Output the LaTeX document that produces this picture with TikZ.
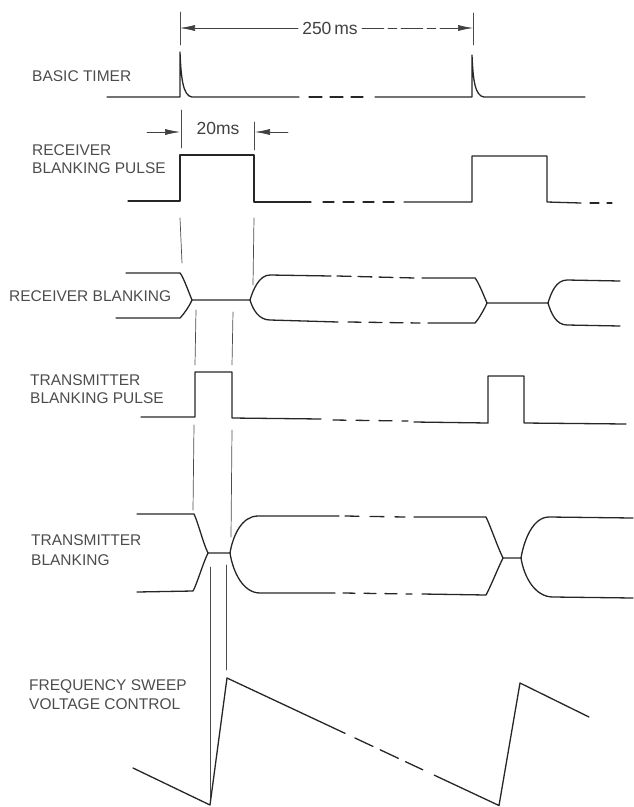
\documentclass[tikz,border=0pt]{standalone}
\usepackage{fontspec}
\setmainfont{Liberation Sans}
\usetikzlibrary{calc,arrows.meta}

\begin{document}
\begin{tikzpicture}[x=1pt,y=-1pt,line cap=round,line join=round,
  sig/.style={line width=1.3pt,draw=black!85},
  gap/.style={sig,dash pattern=on 13pt off 8pt},
  guide/.style={line width=0.7pt,draw=black!70},
  lbl/.style={anchor=base west,inner sep=0pt,text=black!70,font=\fontsize{15.5}{18.5}\selectfont},
  dimtxt/.style={inner sep=4pt,text=black!75,font=\fontsize{17.5}{20}\selectfont},
  dim/.style={line width=0.6pt,draw=black!75,-{Latex[length=15pt,width=6pt]}}]
  \useasboundingbox (0,0) rectangle (633,807);
  % labels
  \node[lbl] (lbTimer) at (32,81.5) {BASIC TIMER};
  \node[lbl] (lbRxPulseA) at (32,155.5) {RECEIVER};
  \node[lbl] (lbRxPulseB) at (32,173.5) {BLANKING PULSE};
  \node[lbl] (lbRx) at (9,301.5) {RECEIVER BLANKING};
  \node[lbl] (lbTxPulseA) at (30,385.5) {TRANSMITTER};
  \node[lbl] (lbTxPulseB) at (30,403.5) {BLANKING PULSE};
  \node[lbl] (lbTxA) at (31,545.5) {TRANSMITTER};
  \node[lbl] (lbTxB) at (31,565.5) {BLANKING};
  \node[lbl] (lbSweepA) at (29,690.5) {FREQUENCY SWEEP};
  \node[lbl] (lbSweepB) at (29,709.5) {VOLTAGE CONTROL};
  % 250 ms Periode
  \coordinate (A1) at (180,28);
  \coordinate (A2) at (473,28);
  \node[dimtxt] (t250) at (330,28) {250\,ms};
  \draw[guide] (180,12) -- (180,45);
  \draw[guide] (473,13) -- (473,45);
  \draw[dim] (t250.west) -- (A1);
  \draw[dim,dash pattern=on 22pt off 4pt on 9pt off 4pt] (t250.east) -- (A2);
  % basic timer
  \draw[sig] (107,97) -- (180,97) -- (180,52) .. controls (181,78) and (183,96) .. (192,97) -- (299,97);
  \draw[gap] (309,97) -- (363,97);
  \draw[sig] (375,97) -- (472,97) -- (472,55) .. controls (473,80) and (475,96) .. (484,97) -- (585,97);
  % 20 ms
  \coordinate (B0) at (147,132);
  \coordinate (B1) at (180,132);
  \coordinate (B2) at (255,132);
  \coordinate (B3) at (288,132);
  \node[dimtxt] (t20) at (218,128) {20ms};
  \draw[guide] (181,110) -- (181,148);
  \draw[guide] (254,122) -- (254,150);
  \draw[dim] (B0) -- (B1);
  \draw[dim] (B3) -- (B2);
  % receiver blanking pulse
  \draw[sig] (128,201) -- (180,201) -- (180,155) -- (254,155) -- (254,202) -- (311,202);
  \draw[gap,dash pattern=on 11pt off 9pt] (323,202) -- (398,202);
  \draw[sig] (404,202) -- (472,202) -- (472,156) -- (547,156) -- (547,202) -- (581,203);
  \draw[gap,dash pattern=on 9pt off 8pt] (590,203) -- (612,203);
  \draw[guide] (180,218) -- (182,263);
  \draw[guide] (254,218) -- (253,285);
  % receiver blanking
  \draw[sig] (126,273) -- (180,273) .. controls (183,276) and (189,293) .. (192,300)
    -- (250,300) .. controls (253,290) and (259,275) .. (270,275) -- (331,276);
  \draw[sig] (116,318) -- (180,318) .. controls (183,315) and (189,307) .. (192,300);
  \draw[sig] (250,300) .. controls (253,310) and (259,320) .. (270,320) -- (338,322);
  \draw[gap,dash pattern=on 14pt off 7pt] (337,276) -- (415,278);
  \draw[gap,dash pattern=on 13pt off 8pt] (348,322) -- (420,323);
  \draw[sig] (422,278) -- (475,278) .. controls (478,281) and (484,296) .. (487,303)
    -- (548,303) .. controls (551,293) and (556,280) .. (567,280) -- (620,281);
  \draw[sig] (428,323) -- (475,323) .. controls (478,320) and (484,310) .. (487,303);
  \draw[sig] (548,303) .. controls (551,313) and (556,325) .. (567,325) -- (620,326);
  \draw[guide] (196,310) -- (195,365);
  \draw[guide] (233,312) -- (232,365);
  % transmitter blanking pulse
  \draw[sig] (141,417) -- (195,417) -- (195,372) -- (232,372) -- (232,418) -- (321,419);
  \draw[gap,dash pattern=on 13pt off 10pt] (333,420) -- (408,421);
  \draw[sig] (414,422) -- (488,423) -- (488,376) -- (524,376) -- (524,423) -- (626,424);
  \draw[guide] (194,425) -- (193,510);
  \draw[guide] (232,430) -- (231,537);
  % transmitter blanking
  \draw[sig] (137,514) -- (194,514) .. controls (198,522) and (203,543) .. (208,553)
    -- (230,553) .. controls (233,535) and (242,516) .. (258,516) -- (339,516);
  \draw[sig] (137,592) -- (193,591) .. controls (197,584) and (203,563) .. (208,553);
  \draw[sig] (230,553) .. controls (233,572) and (243,593) .. (260,593) -- (335,593);
  \draw[gap,dash pattern=on 14pt off 11pt] (345,516) -- (405,517);
  \draw[gap,dash pattern=on 12pt off 9pt] (343,593) -- (412,594);
  \draw[sig] (414,517) -- (486,517) .. controls (490,525) and (498,548) .. (503,558)
    -- (521,558) .. controls (524,540) and (533,517) .. (549,517) -- (633,518);
  \draw[sig] (422,594) -- (486,595) .. controls (490,588) and (498,568) .. (503,558);
  \draw[sig] (521,558) .. controls (524,577) and (535,597) .. (553,597) -- (633,598);
  \draw[guide] (210,567) -- (210,800);
  \draw[guide] (226,565) -- (226,670);
  % frequency sweep voltage control
  \coordinate (S0) at (133,768);
  \coordinate (S1) at (210,805);
  \coordinate (S2) at (227,678);
  \coordinate (S3) at (499,805.5);
  \coordinate (S4) at (520,683);
  \coordinate (S5) at (589,717);
  \draw[sig] (S0) -- (S1) -- (S2) -- ($(S2)!0.434!(S3)$);
  \draw[gap,dash pattern=on 20pt off 8pt] ($(S2)!0.47!(S3)$) -- ($(S2)!0.72!(S3)$);
  \draw[sig] ($(S2)!0.762!(S3)$) -- (S3) -- (S4) -- (S5);
\end{tikzpicture}
\end{document}
